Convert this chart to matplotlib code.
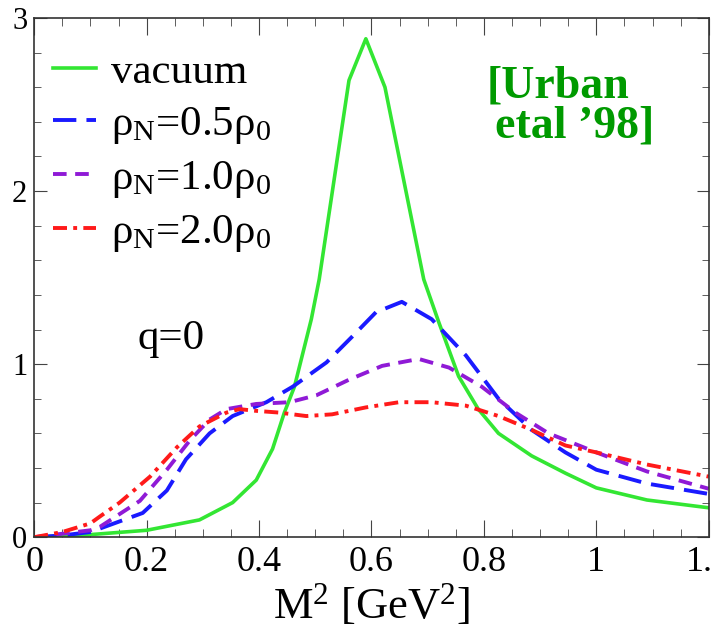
import matplotlib
matplotlib.use("Agg")
import matplotlib.pyplot as plt
from matplotlib.ticker import MultipleLocator

plt.rcParams['font.family'] = ['Liberation Serif', 'DejaVu Serif']
plt.rcParams['mathtext.fontset'] = 'custom'
plt.rcParams['mathtext.rm'] = 'Liberation Serif'
plt.rcParams['mathtext.it'] = 'Liberation Serif:italic'

# vacuum spectral function
vac_x = [0.0, 0.1, 0.2, 0.294, 0.353, 0.395, 0.424, 0.445, 0.463, 0.493, 0.507, 0.56, 0.59,
         0.624, 0.693, 0.72, 0.755, 0.79, 0.826, 0.885, 0.945, 1.0, 1.09, 1.2]
vac_y = [0.0, 0.015, 0.04, 0.10, 0.20, 0.33, 0.51, 0.72, 0.87, 1.26, 1.49, 2.64, 2.88,
         2.60, 1.49, 1.24, 0.93, 0.74, 0.60, 0.47, 0.37, 0.285, 0.215, 0.17]

# rho_N = 0.5 rho_0
n05_x = [0.0, 0.05, 0.1, 0.117, 0.193, 0.236, 0.27, 0.312, 0.353, 0.413, 0.46, 0.52, 0.566,
         0.608, 0.654, 0.707, 0.768, 0.826, 0.885, 0.945, 1.0, 1.09, 1.2]
n05_y = [0.0, 0.01, 0.03, 0.05, 0.14, 0.27, 0.45, 0.60, 0.70, 0.78, 0.87, 1.01, 1.16,
         1.30, 1.36, 1.26, 1.05, 0.80, 0.62, 0.49, 0.39, 0.31, 0.25]

# rho_N = 1.0 rho_0
n10_x = [0.0, 0.05, 0.1, 0.117, 0.188, 0.236, 0.277, 0.312, 0.342, 0.395, 0.454, 0.502, 0.56,
         0.619, 0.684, 0.738, 0.796, 0.856, 0.915, 1.0, 1.09, 1.2]
n10_y = [0.0, 0.02, 0.04, 0.06, 0.21, 0.39, 0.56, 0.68, 0.74, 0.77, 0.78, 0.82, 0.91,
         0.99, 1.03, 0.98, 0.87, 0.72, 0.60, 0.49, 0.38, 0.28]

# rho_N = 2.0 rho_0
n20_x = [0.0, 0.05, 0.1, 0.117, 0.152, 0.206, 0.254, 0.294, 0.342, 0.365, 0.395, 0.436, 0.484,
         0.53, 0.59, 0.649, 0.707, 0.768, 0.826, 0.885, 0.945, 1.0, 1.09, 1.2]
n20_y = [0.0, 0.03, 0.08, 0.12, 0.20, 0.35, 0.52, 0.64, 0.72, 0.74, 0.73, 0.72, 0.70,
         0.71, 0.75, 0.78, 0.78, 0.76, 0.70, 0.62, 0.53, 0.49, 0.42, 0.35]

labels = ['vacuum', 'ρ$_\\mathrm{N}$=0.5ρ$_0$', 'ρ$_\\mathrm{N}$=1.0ρ$_0$', 'ρ$_\\mathrm{N}$=2.0ρ$_0$']

fig = plt.figure(figsize=(7.13, 6.32), dpi=100)
ax = fig.add_axes([0.048, 0.150, 0.946, 0.8215])

ax.plot(vac_x, vac_y, color='#33e633', lw=2.6, label=labels[0])
ax.plot(n05_x, n05_y, color='#1a1aff', lw=2.8, dashes=(6.0, 2.6), label=labels[1])
ax.plot(n10_x, n10_y, color='#8f1ad6', lw=2.8, dashes=(3.5, 2.2), label=labels[2])
ax.plot(n20_x, n20_y, color='#ff1a1a', lw=2.8, dashes=(3.6, 1.6, 1.0, 1.6), label=labels[3])

ax.set_xlim(0, 1.2)
ax.set_ylim(0, 3)
ax.xaxis.set_major_locator(MultipleLocator(0.2))
ax.xaxis.set_minor_locator(MultipleLocator(0.05))
ax.yaxis.set_major_locator(MultipleLocator(1))
ax.yaxis.set_minor_locator(MultipleLocator(0.2))
ax.xaxis.set_major_formatter(plt.FuncFormatter(lambda v, p: '%g' % round(v, 2)))
ax.tick_params(which='both', direction='in', top=True, right=True, color='#444444')
ax.tick_params(axis='x', which='major', length=12, labelsize=26, pad=6)
ax.tick_params(axis='x', which='minor', length=6)
ax.tick_params(axis='y', which='major', length=9, labelsize=22, pad=5)
ax.tick_params(axis='y', which='minor', length=5)
for s in ax.spines.values():
    s.set_color('#333333')
    s.set_linewidth(1.2)

ax.set_xlabel('M$^2$ [GeV$^2$]', fontsize=32, labelpad=2)

ax.text(0.183, 1.09, 'q=0', fontsize=31)
ax.text(0.671, 0.846, '[Urban', transform=ax.transAxes, fontsize=33, fontweight='bold',
        color='#009a00', va='baseline')
ax.text(0.683, 0.769, 'etal \u201998]', transform=ax.transAxes, fontsize=33, fontweight='bold',
        color='#009a00', va='baseline')

ax.legend(loc='upper left', bbox_to_anchor=(0.015, 0.95), fontsize=31, frameon=False,
          handlelength=1.0, handletextpad=0.35, labelspacing=0.3, borderaxespad=0.0,
          borderpad=0.2)

fig.savefig('out.png', dpi=100)
